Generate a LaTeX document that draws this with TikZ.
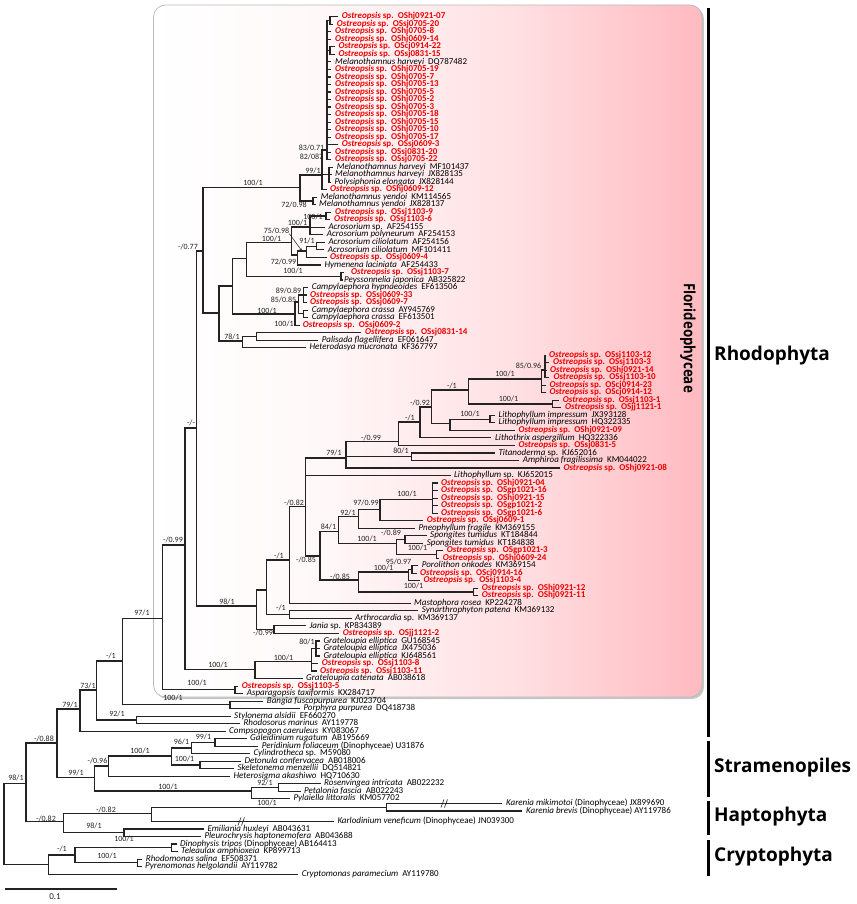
\documentclass[tikz,border=0pt]{standalone}
\usepackage{fontspec}
\setmainfont{Carlito}
\newfontfamily\cladefont{Open Sans}
\usetikzlibrary{arrows.meta}
\definecolor{ored}{RGB}{238,0,0}
\definecolor{fpink}{RGB}{255,186,192}
\definecolor{brc}{RGB}{35,35,35}
\pgfdeclarehorizontalshading{florish}{100bp}{color(0bp)=(white); color(25bp)=(white); color(40bp)=(fpink!10!white); color(58bp)=(fpink!45!white); color(75bp)=(fpink); color(100bp)=(fpink)}
\newcommand\Ly[1]{16.8+7.52*(#1-1)}
\newcommand\os[1]{{\color{ored}\bfseries\itshape Ostreopsis\upshape\ sp.\ \ #1}}
\newcommand\spn[2]{\textit{#1}\ \ #2}
% leaf: name, parent, tip x, index, label x, text
\newcommand\lf[6]{\coordinate (#1t) at (#3,{\Ly{#4}});\node[lab] (#1) at (#5,{\Ly{#4}}) {#6};\draw[br] (#2) |- (#1t);}
% leaf with raw y
\newcommand\lfy[6]{\coordinate (#1t) at (#3,#4);\node[lab] (#1) at (#5,#4) {#6};\draw[br] (#2) |- (#1t);}
\begin{document}
\begin{tikzpicture}[x=1pt,y=-1pt,
  br/.style={line width=1.1pt,draw=brc},
  lab/.style={font=\fontsize{9}{10}\selectfont,inner sep=0pt,anchor=west,text height=5.6pt,text depth=1.4pt},
  bs/.style={font=\fontsize{8}{9}\selectfont,inner sep=0pt,text=brc,text height=5.2pt,text depth=0.6pt},
  cbar/.style={line width=2.4pt,draw=black},
  clab/.style={font=\cladefont\bfseries\fontsize{19}{20}\selectfont,inner sep=0pt,anchor=west}]
\useasboundingbox (0,0) rectangle (856,904);
% ---------- Florideophyceae box ----------
\fill[gray!45,rounded corners=12] (155.5,7) rectangle (704,699);
\shade[shading=florish,rounded corners=12] (153.5,5) rectangle (702,697);
\draw[gray!55,line width=0.7pt,rounded corners=12] (153.5,5) rectangle (702,697);
\node[font=\cladefont\bfseries\fontsize{15.5}{16}\selectfont,rotate=-90,inner sep=0pt] (flor) at (688,338) {\scalebox{0.86}[1]{Florideophyceae}};
% ---------- internal nodes ----------
\coordinate (R) at (4,823);
\coordinate (N26) at (26,783.3);
\coordinate (N57) at (57,743);
\coordinate (N80) at (80,709);
\coordinate (N97) at (96.7,690);
\coordinate (N137) at (136.7,720);
\coordinate (N123) at (122.7,661);
\coordinate (NBP) at (230,704.9);
\coordinate (N163) at (162.7,618.3);
\coordinate (NAT) at (235,689.9);
\coordinate (N185) at (185,545);
\coordinate (NG) at (255,669.3);
\coordinate (N311) at (311.7,661.7);
\coordinate (N80g) at (316,648.5);
\coordinate (N197) at (196.7,428);
\coordinate (N203) at (203,251);
\coordinate (N300) at (300,187.7);
\coordinate (NMY) at (313,201);
\coordinate (N322) at (322,175);
\coordinate (NMH) at (329,174.8);
\coordinate (N327) at (327,150);
\coordinate (N1) at (330,20.6);
\coordinate (N5) at (330,50.7);
\coordinate (N219) at (219,313);
\coordinate (NPH) at (242.7,341);
\coordinate (NPa) at (256.7,336.4);
\coordinate (N233) at (232.7,286);
\coordinate (N247) at (246.7,258.3);
\coordinate (NPy) at (341,276.3);
\coordinate (NA) at (291.7,242.7);
\coordinate (NA1) at (310,227);
\coordinate (NB1) at (326,216);
\coordinate (NA2) at (297.3,255);
\coordinate (N75) at (306.7,251);
\coordinate (N91) at (316.7,246.2);
\coordinate (NC) at (295,314);
\coordinate (N85c) at (298.3,302);
\coordinate (N89) at (303.3,295);
\coordinate (Ncr) at (303.3,313.9);
\coordinate (N256) at (256.7,606);
\coordinate (NJ) at (274,629.7);
\coordinate (N266) at (266.7,590);
\coordinate (NSA) at (289.3,614.7);
\coordinate (N289) at (289.3,560);
\coordinate (N306) at (305.5,506.7);
\coordinate (N79) at (346,458);
\coordinate (M4) at (398.3,441.7);
\coordinate (M3) at (420,422);
\coordinate (M2) at (431.7,407);
\coordinate (M1) at (468.3,390);
\coordinate (P) at (541.7,379);
\coordinate (N85) at (545,370);
\coordinate (B2) at (552.7,404);
\coordinate (NL) at (450,423.3);
\coordinate (NLi) at (490,419.2);
\coordinate (NTA) at (411.7,456.7);
\coordinate (N320) at (320,556);
\coordinate (N338) at (338.3,531.7);
\coordinate (N358a) at (358.3,516.7);
\coordinate (N380) at (380,509.7);
\coordinate (N433) at (432.7,499.3);
\coordinate (N397) at (396.7,543.3);
\coordinate (NSp) at (405,539.4);
\coordinate (NOg) at (436.7,554.4);
\coordinate (N358) at (358.3,580);
\coordinate (N408) at (408.3,572);
\coordinate (NPo) at (412,569.5);
\coordinate (NO12) at (473.3,592);
\coordinate (N94) at (94.3,777.3);
\coordinate (N108) at (108.3,766);
\coordinate (N172) at (171.7,756);
\coordinate (N192) at (191.7,748);
\coordinate (NGP) at (215,742.5);
\coordinate (NDS) at (200,765);
\coordinate (NPh) at (251.7,791);
\coordinate (NRP) at (278.3,787.6);
\coordinate (N63) at (63.3,821.7);
\coordinate (NK) at (151.7,813.3);
\coordinate (NKa) at (386.7,807.2);
\coordinate (NEP) at (124,832.7);
\coordinate (N48) at (48.3,864.5);
\coordinate (N75c) at (75,855);
\coordinate (NDT) at (171.7,847.6);
\coordinate (NRP2) at (137.3,862.6);
% ---------- internal branches ----------
\foreach \p/\c in {R/N26,R/N48,N26/N57,N26/N63,N57/N80,N57/N94,N80/N97,N97/N123,N97/N137,
  N123/N163,N123/NBP,N163/N185,N163/NAT,N185/N197,N185/NG,NG/N311,N311/N80g,
  N197/N203,N197/N256,N203/N300,N203/N219,N300/N322,N300/NMY,N322/N327,N322/NMH,
  N327/N1,N327/N5,N219/N233,N219/NPH,NPH/NPa,N233/N247,N233/NC,N247/NA,N247/NPy,
  NA/NA1,NA/NA2,NA1/NB1,NA2/N75,N75/N91,NC/N85c,N85c/N89,N85c/Ncr,
  N256/N266,N256/NJ,N266/N289,N266/NSA,N289/N306,N306/N79,N79/M4,N79/NTA,
  M4/M3,M3/M2,M2/M1,M2/NL,M1/P,M1/B2,P/N85,NL/NLi,
  N306/N320,N320/N338,N320/N358,N338/N358a,N338/N397,N358a/N380,N380/N433,
  N397/NSp,N397/NOg,N358/N408,N358/NO12,N408/NPo,
  N94/N108,N94/NPh,N108/N172,N172/N192,N172/NDS,N192/NGP,NPh/NRP,
  N63/NK,N63/NEP,NK/NKa,N48/N75c,N75c/NDT,N75c/NRP2}
  {\draw[br] (\p) |- (\c);}
% ---------- leaves ----------
\lf{l1}{N1}{338}{1}{341.7}{\os{OShj0921-07}}
\lf{l2}{N1}{333}{2}{336.7}{\os{OSsj0705-20}}
\lf{l3}{N327}{331}{3}{335}{\os{OShj0705-8}}
\lf{l4}{N327}{331}{4}{335}{\os{OShj0609-14}}
\lf{l5}{N5}{335}{5}{338.3}{\os{OScj0914-22}}
\lf{l6}{N5}{335}{6}{338.3}{\os{OSsj0831-15}}
\lf{l7}{N327}{331}{7}{335}{\spn{Melanothamnus harveyi}{DQ787482}}
\lf{l8}{N327}{331}{8}{335}{\os{OShj0705-19}}
\lf{l9}{N327}{331}{9}{335}{\os{OShj0705-7}}
\lf{l10}{N327}{331}{10}{335}{\os{OShj0705-13}}
\lf{l11}{N327}{331}{11}{335}{\os{OShj0705-5}}
\lf{l12}{N327}{331}{12}{335}{\os{OShj0705-2}}
\lf{l13}{N327}{331}{13}{335}{\os{OShj0705-3}}
\lf{l14}{N327}{331}{14}{335}{\os{OShj0705-18}}
\lf{l15}{N327}{331}{15}{335}{\os{OShj0705-15}}
\lf{l16}{N327}{331}{16}{335}{\os{OShj0705-10}}
\lf{l17}{N327}{331}{17}{335}{\os{OShj0705-17}}
\lf{l18}{N327}{338}{18}{341.7}{\os{OSsj0609-3}}
\lf{l19}{N327}{331}{19}{335}{\os{OSsj0831-20}}
\lf{l20}{N327}{331}{20}{335}{\os{OSsj0705-22}}
\lf{l21}{NMH}{333}{21}{336.7}{\spn{Melanothamnus harveyi}{MF101437}}
\lf{l22}{NMH}{331.5}{22}{335}{\spn{Melanothamnus harveyi}{JX828135}}
\lf{l23}{NMH}{331}{23}{334.3}{\spn{Polysiphonia elongata}{JX828144}}
\lf{l24}{N322}{327}{24}{330}{\os{OShj0609-12}}
\lf{l25}{NMY}{317}{25}{320.7}{\spn{Melanothamnus yendoi}{KM114565}}
\lf{l26}{NMY}{315.5}{26}{319}{\spn{Melanothamnus yendoi}{JX828137}}
\lf{l27}{NB1}{331}{27}{335}{\os{OSsj1103-9}}
\lf{l28}{NB1}{330}{28}{334}{\os{OSsj1103-6}}
\lf{l29}{NA1}{324.5}{29}{328.3}{\textit{Acrosorium} sp.\ \ AF254155}
\lf{l30}{NA1}{323}{30}{326.7}{\spn{Acrosorium polyneurum}{AF254153}}
\lf{l31}{N91}{324.5}{31}{328.3}{\spn{Acrosorium ciliolatum}{AF254156}}
\lf{l32}{N91}{324}{32}{327.7}{\spn{Acrosorium ciliolatum}{MF101411}}
\lf{l33}{N75}{326.5}{33}{330}{\os{OSsj0609-4}}
\lf{l34}{NA2}{320.5}{34}{324.3}{\spn{Hymenena laciniata}{AF254433}}
\lf{l35}{NPy}{344}{35}{351}{\os{OSsj1103-7}}
\lf{l36}{NPy}{343}{36}{344}{\spn{Peyssonnelia japonica}{AB325822}}
\lf{l37}{N89}{308}{37}{311.7}{\spn{Campylaephora hypnaeoides}{EF613506}}
\lf{l38}{N89}{306.5}{38}{310}{\os{OSsj0609-33}}
\lf{l39}{N89}{306.5}{39}{310}{\os{OSsj0609-7}}
\lf{l40}{Ncr}{308}{40}{311.7}{\spn{Campylaephora crassa}{AY945769}}
\lf{l41}{Ncr}{308}{41}{311.7}{\spn{Campylaephora crassa}{EF613501}}
\lf{l42}{NC}{299.5}{42}{302.7}{\os{OSsj0609-2}}
\lf{l43}{NPa}{361}{43}{365}{\os{OSsj0831-14}}
\lf{l44}{NPa}{318}{44}{321.7}{\spn{Palisada flagellifera}{EF061647}}
\lf{l45}{NPH}{305.5}{45}{309.3}{\spn{Heterodasya mucronata}{KF367797}}
\lf{l46}{N85}{546}{46}{549}{\os{OSsj1103-12}}
\lf{l47}{N85}{549}{47}{553}{\os{OSsj1103-3}}
\lf{l48}{N85}{547}{48}{550}{\os{OShj0921-14}}
\lf{l49}{N85}{549}{49}{553.3}{\os{OSsj1103-10}}
\lf{l50}{P}{546}{50}{549.3}{\os{OScj0914-23}}
\lf{l51}{P}{546}{51}{549.3}{\os{OScj0914-12}}
\lf{l52}{B2}{559}{52}{562.7}{\os{OSsj1103-1}}
\lf{l53}{B2}{561}{53}{565}{\os{OSjj1121-1}}
\lf{l54}{NLi}{494.5}{54}{498.3}{\spn{Lithophyllum impressum}{JX393128}}
\lf{l55}{NLi}{494.5}{55}{498.3}{\spn{Lithophyllum impressum}{HQ322335}}
\lf{l56}{NL}{514.5}{56}{518.3}{\os{OShj0921-09}}
\lf{l57}{M3}{491}{57}{495}{\spn{Lithothrix aspergillum}{HQ322336}}
\lf{l58}{M4}{514.5}{58}{518.3}{\os{OSsj0831-5}}
\lf{l59}{NTA}{494.5}{59}{498.3}{\textit{Titanoderma} sp.\ \ KJ652016}
\lf{l60}{NTA}{519}{60}{522.7}{\spn{Amphiroa fragilissima}{KM044022}}
\lf{l61}{N79}{559.5}{61}{563.3}{\os{OShj0921-08}}
\lf{l62}{N306}{450.5}{62}{454}{\textit{Lithophyllum} sp.\ \ KJ652015}
\lf{l63}{N433}{437.5}{63}{441}{\os{OShj0921-04}}
\lf{l64}{N433}{437.5}{64}{441}{\os{OSgp1021-16}}
\lf{l65}{N433}{437.5}{65}{441}{\os{OShj0921-15}}
\lf{l66}{N433}{437.5}{66}{441}{\os{OSgp1021-2}}
\lf{l67}{N433}{437.5}{67}{441}{\os{OSgp1021-6}}
\lf{l68}{N380}{423}{68}{426.7}{\os{OSsj0609-1}}
\lf{l69}{N358a}{414.5}{69}{418.3}{\spn{Pneophyllum fragile}{KM369155}}
\lf{l70}{NSp}{426.5}{70}{430}{\spn{Spongites tumidus}{KT184844}}
\lf{l71}{NSp}{423}{71}{426.7}{\spn{Spongites tumidus}{KT184838}}
\lf{l72}{NOg}{443}{72}{446.7}{\os{OSgp1021-3}}
\lf{l73}{NOg}{439}{73}{442.7}{\os{OShj0609-24}}
\lf{l74}{NPo}{418}{74}{421.7}{\spn{Porolithon onkodes}{KM369154}}
\lf{l75}{NPo}{416.5}{75}{420}{\os{OScj0914-16}}
\lf{l76}{N408}{419.5}{76}{423.3}{\os{OSsj1103-4}}
\lf{l77}{NO12}{478}{77}{481.7}{\os{OShj0921-12}}
\lf{l78}{NO12}{478}{78}{481.7}{\os{OShj0921-11}}
\lf{l79}{N289}{411}{79}{414}{\spn{Mastophora rosea}{KP224278}}
\lf{l80}{NSA}{418}{80}{421.7}{\spn{Synarthrophyton patena}{KM369132}}
\lf{l81}{NSA}{351.5}{81}{355}{\textit{Arthrocardia} sp.\ \ KM369137}
\lf{l82}{NJ}{305.5}{82}{309.3}{\textit{Jania} sp.\ \ KP834389}
\lf{l83}{NJ}{339}{83}{342.7}{\os{OSjj1121-2}}
\lf{l84}{N80g}{319.5}{84}{323.3}{\spn{Grateloupia elliptica}{GU168545}}
\lf{l85}{N80g}{319.5}{85}{323.3}{\spn{Grateloupia elliptica}{JX475036}}
\lf{l86}{N80g}{319.5}{86}{323.3}{\spn{Grateloupia elliptica}{KJ648561}}
\lf{l87}{N311}{318}{87}{321.7}{\os{OSsj1103-8}}
\lf{l88}{N311}{316.5}{88}{320}{\os{OSsj1103-11}}
\lf{l89}{NG}{302.5}{89}{306}{\spn{Grateloupia catenata}{AB038618}}
\lf{l90}{NAT}{238}{90}{241.7}{\os{OSsj1103-5}}
\lf{l91}{NAT}{243}{91}{246.7}{\spn{Asparagopsis taxiformis}{KX284717}}
\lf{l92}{NBP}{263}{92}{266.7}{\spn{Bangia fuscopurpurea}{KJ023704}}
\lf{l93}{NBP}{299.5}{93}{303.3}{\spn{Porphyra purpurea}{DQ418738}}
\lf{l94}{N137}{230.5}{94}{234}{\spn{Stylonema alsidii}{EF660270}}
\lf{l95}{N137}{239.5}{95}{243.3}{\spn{Rhodosorus marinus}{AY119778}}
\lf{l96}{N80}{225.5}{96}{229}{\spn{Compsopogon caeruleus}{KY083067}}
\lf{l97}{NGP}{246.5}{97}{250}{\spn{Galeidinium rugatum}{AB195669}}
\lf{l98}{NGP}{258}{98}{261.7}{\textit{Peridinium foliaceum} (Dinophyceae) U31876}
\lf{l99}{N192}{249.5}{99}{253.3}{\textit{Cylindrotheca} sp.\ \ M59080}
\lf{l100}{NDS}{240.5}{100}{244.3}{\spn{Detonula confervacea}{AB018006}}
\lf{l101}{NDS}{233.5}{101}{237.3}{\spn{Skeletonema menzellii}{DQ514821}}
\lf{l102}{N108}{229.5}{102}{233.3}{\spn{Heterosigma akashiwo}{HQ710630}}
\lf{l103}{NRP}{320.5}{103}{324}{\spn{Rosenvingea intricata}{AB022232}}
\lf{l104}{NRP}{300.5}{104}{304}{\spn{Petalonia fascia}{AB022243}}
\lf{l105}{NPh}{289.5}{105}{293.3}{\spn{Pylaiella littoralis}{KM057702}}
\lfy{l106}{NKa}{502}{803.4}{506}{\textit{Karenia mikimotoi} (Dinophyceae) JX899690}
\lfy{l107}{NKa}{522}{811}{526}{\textit{Karenia brevis} (Dinophyceae) AY119786}
\lf{l108}{NK}{333.5}{108}{337.3}{\textit{Karlodinium veneficum} (Dinophyceae) JN039300}
\lf{l109}{NEP}{203.5}{109}{207.3}{\spn{Emiliania huxleyi}{AB043631}}
\lf{l110}{NEP}{200.5}{110}{204.3}{\spn{Pleurochrysis haptonemofera}{AB043688}}
\lf{l111}{NDT}{176.5}{111}{180}{\textit{Dinophysis tripos} (Dinophyceae) AB164413}
\lf{l112}{NDT}{177.5}{112}{181}{\spn{Teleaulax amphioxeia}{KP899713}}
\lf{l113}{NRP2}{142}{113}{145.7}{\spn{Rhodomonas salina}{EF508371}}
\lf{l114}{NRP2}{141.5}{114}{145}{\spn{Pyrenomonas helgolandii}{AY119782}}
\lf{l115}{N48}{298}{115}{301.7}{\spn{Cryptomonas paramecium}{AY119780}}
% break marks
\draw[brc,line width=0.6pt] (238,825.4)--(241,817.4) (241.5,825.4)--(244.5,817.4);
\draw[brc,line width=0.6pt] (441,807.4)--(444,799.4) (444.5,807.4)--(447.5,799.4);
% ---------- support values ----------
\foreach \n/\x/\y/\t in {
 b1/16/778/98{/}1, b2/44/739/-{/}0.88, b3/70/705/79{/}1, b4/76/773/99{/}1, b5/88/686/73{/}1,
 b6/111/656/-{/}1, b7/117/714/92{/}1, b8/142/613/97{/}1, b9/173/698.5/100{/}1, b10/197/683.5/100{/}1,
 b11/173/540/-{/}0.99, b12/218/665/100{/}1, b13/191/423.5/-{/}-, b14/188/247/-{/}0.77, b15/227/601.7/98{/}1,
 b16/253/183/100{/}1, b17/313/171.7/99{/}1, b18/294/205.5/72{/}0.98, b19/311.5/148.3/83{/}0.71, b20/311.5/157/82{/}087,
 b21/313/217.3/100{/}1, b22/297.5/222.7/100{/}1, b24/271.5/239/100{/}1, b25/307/240.7/91{/}1,
 b26/283.5/262/72{/}0.99, b27/293/271.5/100{/}1, b28/288.5/290.7/89{/}0.89, b29/283.5/300/85{/}0.85, b30/267/310.7/100{/}1,
 b31/284/324/100{/}1, b32/232/337/78{/}1, b33/528.5/366/85{/}0.96, b34/505/374/100{/}1, b35/452/386/-{/}1,
 b36/508.5/399/100{/}1, b37/420/402.7/-{/}0.92, b38/470/414/100{/}1, b39/410/418.3/-{/}1, b40/371/438/-{/}0.99,
 b41/401/451.5/80{/}1, b42/334/453.5/79{/}1, b43/279/556/-{/}1, b44/366/503.5/97{/}0.99, b45/407/494/100{/}1,
 b46/294/502.7/-{/}0.82, b47/348/513.3/92{/}1, b48/328.5/527.3/84{/}1, b49/391/533/-{/}0.89, b50/367/539/100{/}1,
 b51/417.5/548.3/100{/}1, b52/306/560.5/-{/}0.85, b53/398.5/561.7/95{/}0.97, b54/383.5/568/100{/}1, b55/340/577/-{/}0.85,
 b56/413.5/586/100{/}1, b57/281/608.3/-{/}1, b58/263/633.3/-{/}0.99, b59/307/641.7/80{/}1, b60/283.5/658/100{/}1,
 b61/181.5/741.7/96{/}1, b62/203.5/736.7/99{/}1, b63/140/750.7/100{/}1, b64/97.5/761/-{/}0.96, b65/184.5/759.3/100{/}1,
 b66/168/787/100{/}1, b67/265/783/92{/}1, b68/46/819/-{/}0.82, b69/106/810/-{/}0.82, b70/267/803.3/100{/}1,
 b71/94/826/98{/}1, b72/62/849.3/-{/}1, b73/124/839.3/100{/}1, b74/107/856/100{/}1}
 {\node[bs] (\n) at (\x,\y) {\t};}
\node[bs] (b23) at (276.5,230.7) {75/0.98};
\coordinate (a75) at (302,251);
\draw[brc,line width=0.5pt,-{Stealth[length=3pt,width=2.4pt]}] (b23.south east) -- (a75);
% ---------- scale bar ----------
\coordinate (sb1) at (5,889);
\coordinate (sb2) at (117,889);
\draw[br] (sb1) -- (sb2);
\node[bs,font=\fontsize{9}{10}\selectfont] (sbl) at (55,897) {0.1};
% ---------- clade bars ----------
\coordinate (c1a) at (708.5,8); \coordinate (c1b) at (708.5,737);
\coordinate (c2a) at (708.5,741); \coordinate (c2b) at (708.5,797);
\coordinate (c3a) at (708.5,801); \coordinate (c3b) at (708.5,835);
\coordinate (c4a) at (708.5,840); \coordinate (c4b) at (708.5,876);
\draw[cbar] (c1a) -- (c1b);
\draw[cbar] (c2a) -- (c2b);
\draw[cbar] (c3a) -- (c3b);
\draw[cbar] (c4a) -- (c4b);
\node[clab] (rho) at (714,356) {Rhodophyta};
\node[clab] (str) at (714,768) {Stramenopiles};
\node[clab] (hap) at (714,817) {Haptophyta};
\node[clab] (cry) at (714,857) {Cryptophyta};
\end{tikzpicture}
\end{document}
